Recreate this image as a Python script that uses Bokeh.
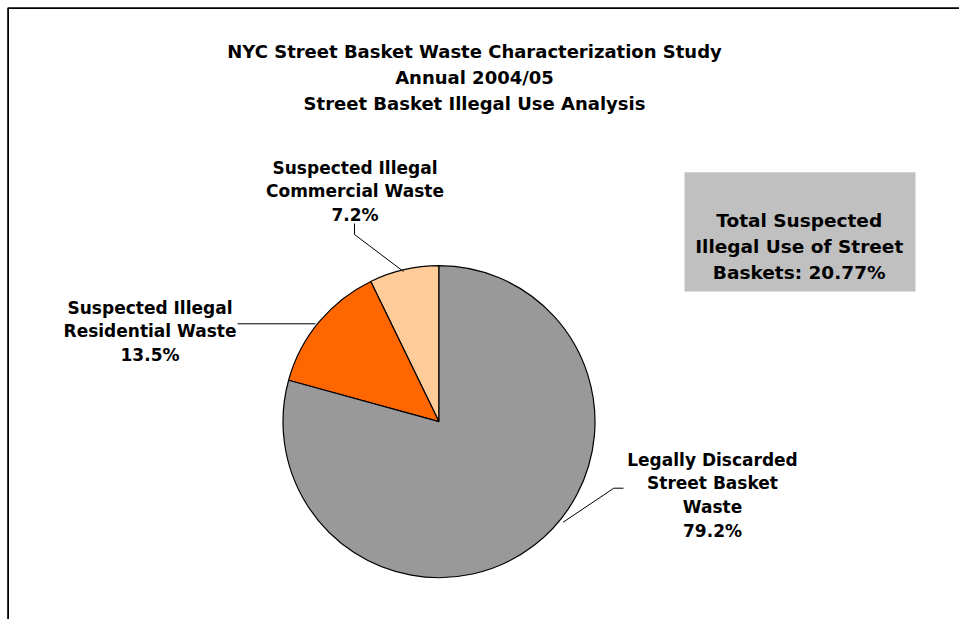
import numpy as np
from bokeh.plotting import figure
from bokeh.models import Range1d, ColumnDataSource
from bokeh.core.properties import value
from bokeh.embed import file_html
from bokeh.resources import INLINE

# ---------------- data ----------------
title_lines = [
    "NYC Street Basket Waste Characterization Study",
    "Annual 2004/05",
    "Street Basket Illegal Use Analysis",
]
categories = [
    "Suspected Illegal Commercial Waste",
    "Suspected Illegal Residential Waste",
    "Legally Discarded Street Basket Waste",
]
shares = [7.2, 13.5, 79.2]
name_lines = [
    ["Suspected Illegal", "Commercial Waste"],
    ["Suspected Illegal", "Residential Waste"],
    ["Legally Discarded", "Street Basket", "Waste"],
]
colors = ["#FFCC99", "#FF6600", "#999999"]
note_lines = ["Total Suspected", "Illegal Use of Street", "Baskets: 20.77%"]

# ---------------- layout helpers (screen pixels -> data) ----------------
W, H = 959, 619
OFF = 0


def X(sx):
    return sx - OFF


def Y(sy):
    return H - (sy - OFF)


FONT = value("DejaVu Sans")

p = figure(width=W, height=H, x_range=Range1d(0, W), y_range=Range1d(0, H),
           output_backend="svg", toolbar_location=None, min_border=0,
           x_axis_type=None, y_axis_type=None)
p.grid.visible = False
p.outline_line_color = None
p.background_fill_color = "white"
p.border_fill_color = "white"

# chart border (left and top edges visible)
p.line(x=[X(7.6), X(7.6), W], y=[0, Y(7.6), Y(7.6)], line_color="black", line_width=1.8)

# ---------------- pie ----------------
vals = np.array(shares, dtype=float)
ang = vals / vals.sum() * 2 * np.pi
starts = np.pi / 2 + np.concatenate([[0.0], np.cumsum(ang)[:-1]])
ends = starts + ang
cx, cy = X(438.5), Y(421.2)
src = ColumnDataSource(dict(cat=categories, share=shares, start=starts, end=ends, color=colors))
p.wedge(x=cx, y=cy, radius=156, radius_units="screen", start_angle="start", end_angle="end",
        direction="anticlock", fill_color="color", line_color="black", line_width=1.2, source=src)

# ---------------- leader lines ----------------
leaders = [
    ([354, 354, 403], [223, 234, 271]),
    ([237, 315], [323.3, 323.3]),
    ([623, 613.3, 562.5], [487.7, 487.7, 521.8]),
]
for xs, ys in leaders:
    p.line(x=[X(v) for v in xs], y=[Y(v) for v in ys], line_color="black", line_width=1)

# ---------------- slice labels ----------------
label_pos = [  # center x, first baseline, line step
    (354.5, 167.0, 23.6),
    (149.5, 307.3, 23.4),
    (712.0, 459.3, 23.6),
]
for lines, share, (lx, ly, step) in zip(name_lines, shares, label_pos):
    all_lines = lines + [f"{share:.1f}%"]
    p.text(x=[X(lx)] * len(all_lines), y=[Y(ly + i * step) for i in range(len(all_lines))],
           text=all_lines, text_align="center", text_baseline="alphabetic",
           text_font=FONT, text_font_style="bold", text_font_size=value("17px"),
           text_color="black")

# ---------------- note box ----------------
p.quad(left=X(684), right=X(915), top=Y(171.7), bottom=Y(291), fill_color="#C0C0C0", line_color=None)
p.text(x=[X(798.7)] * 3, y=[Y(220), Y(246), Y(271.5)], text=note_lines,
       text_align="center", text_baseline="alphabetic", text_font=FONT,
       text_font_style="bold", text_font_size=value("18.5px"), text_color="black")

# ---------------- title ----------------
p.text(x=[X(474)] * 3, y=[Y(51.3), Y(77.3), Y(103.3)], text=title_lines,
       text_align="center", text_baseline="alphabetic", text_font=FONT,
       text_font_style="bold", text_font_size=value("18px"), text_color="black")

open("out.html", "w").write(file_html(p, INLINE))
